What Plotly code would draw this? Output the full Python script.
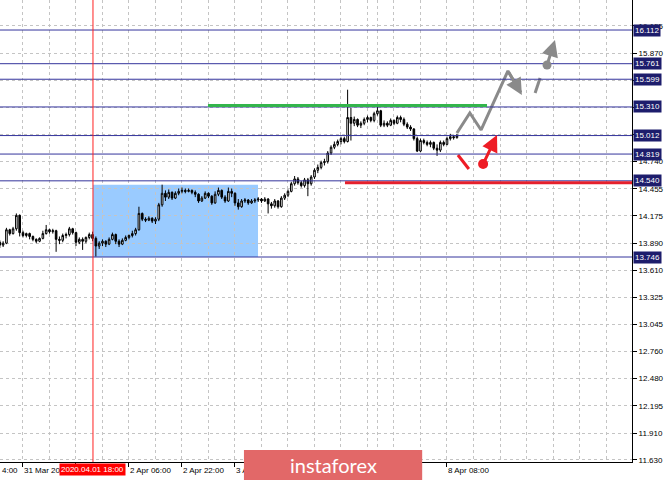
import plotly.graph_objects as go

# ---------------- data ----------------
closes = [13.87, 13.89, 14.03, 13.99, 14.04, 14.18, 14.00, 13.97, 13.99, 13.96,
          13.93, 13.91, 13.94, 13.99, 14.03, 14.01, 14.02, 13.93, 13.92, 13.97,
          13.98, 14.04, 14.00, 13.90, 13.93, 13.91, 13.95, 13.98,
          13.94, 13.86, 13.89, 13.91, 13.88, 13.93, 13.98, 13.91, 13.88, 13.92,
          13.95, 13.97, 13.99, 14.03, 14.20, 14.14, 14.13, 14.15, 14.12, 14.14,
          14.29, 14.41, 14.37, 14.42, 14.36, 14.41, 14.43, 14.44, 14.43, 14.44,
          14.42, 14.40, 14.33, 14.36, 14.41, 14.38, 14.31, 14.40, 14.44, 14.37,
          14.33, 14.43, 14.41, 14.31, 14.27, 14.33, 14.34, 14.31, 14.33, 14.34,
          14.35, 14.33, 14.35, 14.30, 14.28, 14.33, 14.27, 14.36, 14.39, 14.43,
          14.51, 14.56, 14.52, 14.49, 14.55, 14.51, 14.58, 14.65, 14.68, 14.73,
          14.74, 14.83, 14.89, 14.92, 14.95, 14.98, 14.95,
          15.20, 15.14, 15.18, 15.12, 15.14, 15.18, 15.20, 15.17, 15.24, 15.27,
          15.12, 15.14, 15.12, 15.17, 15.14, 15.20, 15.18, 15.13, 15.10, 15.08,
          14.98, 14.85, 14.96, 14.94, 14.92, 14.94, 14.88, 14.86, 14.94, 14.92,
          14.98, 15.00, 14.99, 15.01]
highs = [13.92, 13.91, 14.05, 14.04, 14.06, 14.20, 14.19, 14.02, 14.00, 14.00,
         13.97, 13.94, 13.95, 14.02, 14.08, 14.04, 14.04, 14.03, 13.96, 13.99,
         14.00, 14.06, 14.05, 14.01, 13.95, 13.95, 13.96, 14.00,
         14.01, 13.96, 13.91, 13.93, 13.92, 13.95, 14.00, 13.99, 13.93, 13.94,
         13.97, 13.98, 14.02, 14.05, 14.27, 14.21, 14.16, 14.17, 14.16, 14.16,
         14.31, 14.50, 14.44, 14.45, 14.43, 14.43, 14.46, 14.47, 14.46, 14.46,
         14.45, 14.44, 14.41, 14.38, 14.43, 14.42, 14.39, 14.43, 14.47, 14.45,
         14.39, 14.47, 14.46, 14.42, 14.35, 14.35, 14.36, 14.35, 14.35, 14.36,
         14.37, 14.36, 14.37, 14.36, 14.32, 14.35, 14.34, 14.38, 14.41, 14.45,
         14.53, 14.59, 14.58, 14.54, 14.57, 14.57, 14.60, 14.67, 14.71, 14.75,
         14.77, 14.85, 14.91, 14.95, 14.97, 15.00, 15.00,
         15.49, 15.30, 15.21, 15.19, 15.16, 15.20, 15.22, 15.21, 15.26, 15.31,
         15.28, 15.17, 15.16, 15.19, 15.18, 15.22, 15.22, 15.20, 15.15, 15.12,
         15.09, 15.00, 14.98, 14.98, 14.96, 14.96, 14.95, 14.92, 14.96, 14.96,
         15.00, 15.03, 15.02, 15.03]
lows = [13.84, 13.85, 13.88, 13.97, 13.98, 14.02, 13.96, 13.95, 13.95, 13.93,
        13.91, 13.89, 13.90, 13.93, 13.98, 13.99, 13.99, 13.80, 13.88, 13.90,
        13.94, 13.96, 13.98, 13.86, 13.88, 13.82, 13.89, 13.93,
        13.91, 13.75, 13.83, 13.86, 13.85, 13.87, 13.92, 13.88, 13.85, 13.87,
        13.91, 13.93, 13.95, 13.97, 14.02, 14.12, 14.11, 14.12, 14.10, 14.09,
        14.12, 14.27, 14.33, 14.35, 14.34, 14.35, 14.39, 14.41, 14.41, 14.42,
        14.40, 14.37, 14.31, 14.32, 14.35, 14.36, 14.29, 14.30, 14.38, 14.35,
        14.31, 14.32, 14.37, 14.28, 14.24, 14.26, 14.31, 14.29, 14.30, 14.31,
        14.32, 14.31, 14.32, 14.20, 14.25, 14.26, 14.25, 14.26, 14.34, 14.37,
        14.42, 14.49, 14.50, 14.47, 14.47, 14.38, 14.49, 14.56, 14.62, 14.66,
        14.70, 14.72, 14.81, 14.87, 14.90, 14.92, 14.93,
        14.94, 14.96, 15.11, 15.10, 15.09, 15.12, 15.15, 15.15, 15.15, 15.22,
        15.10, 15.10, 15.10, 15.11, 15.12, 15.13, 15.15, 15.11, 15.08, 15.06,
        14.96, 14.84, 14.84, 14.92, 14.90, 14.89, 14.86, 14.80, 14.84, 14.90,
        14.91, 14.96, 14.97, 14.98]
opens = [13.90] + closes[:-1]
bars = list(range(len(closes)))

level_values = [16.112, 15.761, 15.599, 15.310, 15.012, 14.819, 14.540, 13.746]
ytick_values = [11.630, 11.910, 12.195, 12.480, 12.760, 13.045, 13.325, 13.610,
                13.890, 14.175, 14.455, 14.740, 15.020, 15.305, 15.585, 15.870, 16.155]
ytick_hidden = [15.020, 15.305, 15.585]   # covered by the level labels
xtick_bars = [7, 23, 39, 55, 71, 87, 103, 114, 135]
# labels fully hidden behind the badge in the reference are left blank
xtick_labels = ["31 Mar 20:00", "1 Apr 12:00", "2 Apr 06:00", "2 Apr 22:00",
                "3 Apr 14:00", "", "", "7 Apr 16:00", "8 Apr 08:00"]
marker_bar = 28.13
marker_label = "2020.04.01 18:00"

# drawn decorations (bar index, price)
box_bars = [28.13, 77.95]
box_prices = [13.746, 14.50]
green_bars = [62.85, 147.08]
green_price = 15.325
red_bars = [104.2, 190.85]
red_price = 14.52
gray_path_bars = [138.0, 141.9, 145.3, 153.4, 157.3]
gray_path_prices = [15.038, 15.247, 15.070, 15.685, 15.46]
gray_head = [157.6, 15.435]
gray_dash_bars = [161.6, 163.1]
gray_dash_prices = [15.455, 15.612]
gray_circle = [165.2, 15.747]
gray_up_head = [167.6, 16.008]
red_stroke_bars = [138.3, 141.6]
red_stroke_prices = [14.809, 14.663]
red_circle = [145.9, 14.715]
red_up_head = [150.1, 15.018]

XR = [0.06, 190.85]
YR = [11.609, 16.425]

NAVY_LINE = "#34349c"
NAVY_LBL = "#1d1d6c"
GRID = "#c4c4c4"
FONT = "Liberation Sans, Arial, sans-serif"

fig = go.Figure()

fig.add_trace(go.Candlestick(
    x=bars, open=opens, high=highs, low=lows, close=closes,
    increasing=dict(line=dict(color="black", width=1), fillcolor="white"),
    decreasing=dict(line=dict(color="black", width=1), fillcolor="black"),
    whiskerwidth=0, showlegend=False, hoverinfo="skip"))

fig.add_trace(go.Scatter(x=gray_path_bars, y=gray_path_prices, mode="lines",
                         line=dict(color="#8a8a8a", width=3), showlegend=False, hoverinfo="skip"))
fig.add_trace(go.Scatter(x=gray_dash_bars, y=gray_dash_prices, mode="lines",
                         line=dict(color="#8a8a8a", width=3), showlegend=False, hoverinfo="skip"))
fig.add_trace(go.Scatter(x=red_stroke_bars, y=red_stroke_prices, mode="lines",
                         line=dict(color="#ee1c25", width=3), showlegend=False, hoverinfo="skip"))

shapes = []
shapes.append(dict(type="rect", xref="x", yref="y", x0=box_bars[0], x1=box_bars[1],
                   y0=box_prices[0], y1=box_prices[1], fillcolor="#9acbff",
                   line=dict(width=0), layer="below"))
for v in level_values:
    shapes.append(dict(type="line", xref="paper", yref="y", x0=0, x1=1, y0=v, y1=v,
                       line=dict(color=NAVY_LINE, width=1), layer="above"))
shapes.append(dict(type="line", xref="x", yref="y", x0=green_bars[0], x1=green_bars[1],
                   y0=green_price, y1=green_price, line=dict(color="#33b54c", width=3)))
shapes.append(dict(type="line", xref="x", yref="y", x0=red_bars[0], x1=red_bars[1],
                   y0=red_price, y1=red_price, line=dict(color="#e5202c", width=3)))
shapes.append(dict(type="line", xref="x", yref="paper", x0=marker_bar, x1=marker_bar,
                   y0=0, y1=1, line=dict(color="#ff2020", width=1)))
shapes.append(dict(type="circle", xref="x", yref="y", xsizemode="pixel", ysizemode="pixel",
                   xanchor=gray_circle[0], yanchor=gray_circle[1],
                   x0=-4.5, x1=4.5, y0=-4.5, y1=4.5, fillcolor="#8a8a8a", line=dict(width=0)))
shapes.append(dict(type="circle", xref="x", yref="y", xsizemode="pixel", ysizemode="pixel",
                   xanchor=red_circle[0], yanchor=red_circle[1],
                   x0=-5, x1=5, y0=-5, y1=5, fillcolor="#ee1c25", line=dict(width=0)))
# instaforex badge
shapes.append(dict(type="rect", xref="paper", yref="paper", x0=0.386, x1=0.668,
                   y0=-0.039, y1=0.026, fillcolor="#e26868", line=dict(width=0), layer="above"))

annotations = []
for v in level_values:
    annotations.append(dict(xref="paper", yref="y", x=1, y=v, xanchor="left", yanchor="middle",
                            xshift=1, text=f"{v:.3f}", showarrow=False, bgcolor=NAVY_LBL,
                            borderpad=1, font=dict(color="white", size=8, family=FONT)))
annotations.append(dict(xref="x", yref="paper", x=marker_bar, y=0, yanchor="top", yshift=-1,
                        text=marker_label, showarrow=False, bgcolor="#ff0000", borderpad=1,
                        font=dict(color="white", size=8, family=FONT)))
annotations.append(dict(xref="paper", yref="paper", x=0, y=0, xanchor="left", yanchor="top",
                        yshift=-2, text="4:00", showarrow=False,
                        font=dict(color="black", size=8, family=FONT)))
annotations.append(dict(xref="paper", yref="paper", x=0.527, y=-0.0065, xanchor="center",
                        yanchor="middle", text="instaforex", showarrow=False,
                        font=dict(color="white", size=20, family="Lato, Open Sans, sans-serif")))
for head, tail, col in [(gray_head, [gray_path_bars[3], gray_path_prices[3]], "#8a8a8a"),
                        (gray_up_head, gray_circle, "#8a8a8a"),
                        (red_up_head, red_circle, "#ee1c25")]:
    annotations.append(dict(xref="x", yref="y", axref="x", ayref="y",
                            x=head[0], y=head[1], ax=tail[0], ay=tail[1], text="",
                            showarrow=True, arrowhead=2, arrowsize=1.1, arrowwidth=3,
                            arrowcolor=col))

fig.update_layout(
    width=665, height=481, margin=dict(l=0, r=33, t=0, b=19, autoexpand=False),
    paper_bgcolor="white", plot_bgcolor="white",
    shapes=shapes, annotations=annotations, showlegend=False,
    font=dict(family=FONT, size=8, color="black"),
    xaxis=dict(range=XR, tickmode="array", tickvals=xtick_bars, ticktext=xtick_labels,
               ticks="outside", ticklen=4, tickcolor="black", ticklabelposition="outside right",
               tickangle=0, automargin=False,
               showline=True, linecolor="black", linewidth=1, zeroline=False,
               showgrid=True, gridcolor=GRID, griddash="3px,3px", gridwidth=1,
               minor=dict(tickmode="linear", tick0=7, dtick=8, showgrid=True,
                          gridcolor=GRID, griddash="3px,3px", ticks=""),
               rangeslider=dict(visible=False), fixedrange=True,
               tickfont=dict(size=8, family=FONT, color="black")),
    yaxis=dict(range=YR, side="right", tickmode="array", tickvals=ytick_values,
               ticktext=["" if v in ytick_hidden else f"{v:.3f}" for v in ytick_values],
               ticks="outside", ticklen=4, tickcolor="black", automargin=False,
               showline=True, linecolor="black", linewidth=1, zeroline=False,
               showgrid=True, gridcolor=GRID, griddash="3px,3px", gridwidth=1,
               fixedrange=True, tickfont=dict(size=8, family=FONT, color="black")),
)

fig.write_html("out.html", config={"displayModeBar": False},
               post_script="document.body.style.margin='0';document.body.style.overflow='hidden';")
